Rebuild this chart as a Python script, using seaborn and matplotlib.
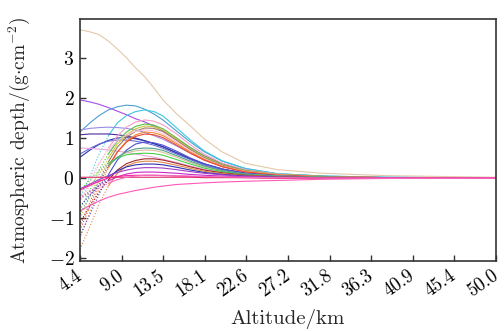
import matplotlib
matplotlib.use("Agg")
import matplotlib.pyplot as plt
import matplotlib.transforms as mtransforms
import seaborn as sns
import pandas as pd

# altitude sample points (km)
altitude = [4.4, 5.5, 6.5, 7.5, 8.5, 9.5, 10.5, 11.5, 12.5, 13.5, 15, 16.5, 18, 20, 22.5, 26, 31, 38, 50]

x_ticks = [4.4, 9.0, 13.5, 18.1, 22.6, 27.2, 31.8, 36.3, 40.9, 45.4, 50.0]
x_tick_labels = ["4.4", "9.0", "13.5", "18.1", "22.6", "27.2", "31.8", "36.3", "40.9", "45.4", "50.0"]
y_ticks = [-2, -1, 0, 1, 2, 3]

curve_colors = [
    "#e3c9a8", "#a64de6", "#4c9fd0", "#3cc8e0", "#9a8ce8", "#4b2aa0", "#2838a8",
    "#6a6ad8", "#e8a8e0", "#f4a0c8", "#58c048", "#c8c83c", "#a07868", "#f8c0d8",
    "#f08a30", "#f04830", "#5050d0", "#d8c098", "#48d048", "#50a090", "#a02828",
    "#e08848", "#3030b8", "#a040c8", "#c828c8", "#ff20a0", "#e0306a", "#ff58b8",
    "#f070c0",
]
curve_dotted = [
    False, False, False, True, False, False, False,
    False, False, True, True, True, True, True,
    True, True, True, True, True, True, True,
    True, True, False, True, False, False, False,
    True,
]
curve_values = [
    [3.70, 3.65, 3.58, 3.42, 3.22, 3.00, 2.75, 2.53, 2.25, 1.95, 1.60, 1.30, 0.98, 0.65, 0.37, 0.21, 0.12, 0.06, 0.02],
    [1.95, 1.90, 1.84, 1.76, 1.67, 1.58, 1.48, 1.40, 1.30, 1.18, 0.98, 0.76, 0.56, 0.36, 0.20, 0.09, 0.04, 0.01, 0.00],
    [1.15, 1.38, 1.56, 1.70, 1.78, 1.82, 1.80, 1.72, 1.60, 1.45, 1.17, 0.90, 0.66, 0.42, 0.24, 0.11, 0.05, 0.02, 0.00],
    [-0.50, 0.05, 0.60, 1.05, 1.38, 1.56, 1.66, 1.70, 1.66, 1.55, 1.25, 0.95, 0.68, 0.43, 0.24, 0.11, 0.05, 0.02, 0.00],
    [1.20, 1.24, 1.26, 1.27, 1.26, 1.24, 1.20, 1.14, 1.06, 0.97, 0.80, 0.62, 0.45, 0.29, 0.16, 0.07, 0.03, 0.01, 0.00],
    [1.08, 1.10, 1.10, 1.10, 1.08, 1.05, 1.00, 0.93, 0.86, 0.78, 0.63, 0.48, 0.35, 0.22, 0.12, 0.05, 0.02, 0.01, 0.00],
    [0.52, 0.70, 0.84, 0.94, 1.00, 1.01, 0.98, 0.93, 0.86, 0.78, 0.63, 0.48, 0.35, 0.22, 0.12, 0.05, 0.02, 0.01, 0.00],
    [0.60, 0.74, 0.85, 0.92, 0.95, 0.95, 0.92, 0.88, 0.82, 0.74, 0.60, 0.46, 0.33, 0.21, 0.11, 0.05, 0.02, 0.01, 0.00],
    [0.75, 0.74, 0.72, 0.70, 0.67, 0.64, 0.60, 0.56, 0.52, 0.47, 0.39, 0.30, 0.22, 0.14, 0.08, 0.04, 0.02, 0.01, 0.00],
    [-0.60, -0.10, 0.35, 0.75, 1.05, 1.27, 1.40, 1.45, 1.42, 1.33, 1.10, 0.83, 0.60, 0.37, 0.21, 0.10, 0.04, 0.01, 0.00],
    [-0.80, -0.30, 0.20, 0.60, 0.92, 1.15, 1.29, 1.35, 1.32, 1.23, 1.00, 0.76, 0.55, 0.34, 0.19, 0.09, 0.04, 0.01, 0.00],
    [-1.00, -0.45, 0.08, 0.50, 0.85, 1.08, 1.23, 1.30, 1.28, 1.20, 0.97, 0.73, 0.53, 0.33, 0.18, 0.09, 0.04, 0.01, 0.00],
    [-1.20, -0.60, -0.05, 0.40, 0.77, 1.02, 1.17, 1.25, 1.24, 1.16, 0.94, 0.71, 0.51, 0.32, 0.18, 0.08, 0.04, 0.01, 0.00],
    [-0.40, 0.00, 0.38, 0.70, 0.93, 1.08, 1.17, 1.20, 1.18, 1.10, 0.90, 0.68, 0.49, 0.30, 0.17, 0.08, 0.03, 0.01, 0.00],
    [-1.50, -0.85, -0.25, 0.25, 0.65, 0.92, 1.08, 1.15, 1.13, 1.06, 0.86, 0.65, 0.47, 0.29, 0.16, 0.08, 0.03, 0.01, 0.00],
    [-1.30, -0.70, -0.15, 0.30, 0.65, 0.90, 1.04, 1.10, 1.08, 1.01, 0.82, 0.62, 0.45, 0.28, 0.15, 0.07, 0.03, 0.01, 0.00],
    [-1.43, -0.90, -0.40, 0.08, 0.45, 0.70, 0.85, 0.90, 0.88, 0.82, 0.67, 0.50, 0.36, 0.23, 0.12, 0.06, 0.02, 0.01, 0.00],
    [-0.50, -0.20, 0.10, 0.35, 0.52, 0.63, 0.68, 0.70, 0.69, 0.64, 0.52, 0.39, 0.28, 0.18, 0.10, 0.05, 0.02, 0.01, 0.00],
    [-0.30, -0.05, 0.18, 0.37, 0.50, 0.58, 0.61, 0.62, 0.61, 0.57, 0.46, 0.35, 0.25, 0.16, 0.09, 0.04, 0.02, 0.01, 0.00],
    [-0.90, -0.45, -0.05, 0.30, 0.52, 0.66, 0.73, 0.75, 0.74, 0.69, 0.56, 0.42, 0.30, 0.19, 0.10, 0.05, 0.02, 0.01, 0.00],
    [-1.10, -0.70, -0.35, -0.05, 0.20, 0.36, 0.44, 0.48, 0.48, 0.45, 0.37, 0.28, 0.20, 0.13, 0.07, 0.03, 0.01, 0.00, 0.00],
    [-1.78, -1.20, -0.65, -0.20, 0.12, 0.30, 0.39, 0.42, 0.42, 0.39, 0.32, 0.24, 0.17, 0.11, 0.06, 0.03, 0.01, 0.00, 0.00],
    [-0.70, -0.42, -0.18, 0.03, 0.18, 0.28, 0.33, 0.35, 0.35, 0.33, 0.27, 0.20, 0.14, 0.09, 0.05, 0.02, 0.01, 0.00, 0.00],
    [-0.27, -0.15, -0.04, 0.06, 0.14, 0.20, 0.24, 0.26, 0.26, 0.25, 0.21, 0.16, 0.12, 0.08, 0.04, 0.02, 0.01, 0.00, 0.00],
    [-0.50, -0.33, -0.19, -0.07, 0.03, 0.10, 0.14, 0.15, 0.15, 0.14, 0.12, 0.09, 0.07, 0.05, 0.03, 0.01, 0.00, 0.00, 0.00],
    [-0.30, -0.18, -0.08, 0.00, 0.04, 0.06, 0.07, 0.07, 0.07, 0.06, 0.05, 0.04, 0.03, 0.02, 0.01, 0.00, 0.00, 0.00, 0.00],
    [0.02, 0.02, 0.02, 0.02, 0.02, 0.02, 0.02, 0.02, 0.02, 0.02, 0.02, 0.02, 0.01, 0.01, 0.01, 0.00, 0.00, 0.00, 0.00],
    [-0.82, -0.68, -0.57, -0.48, -0.41, -0.36, -0.31, -0.27, -0.23, -0.20, -0.16, -0.14, -0.12, -0.10, -0.08, -0.06, -0.03, -0.01, 0.00],
    [-0.52, -0.38, -0.25, -0.13, -0.04, 0.02, 0.05, 0.07, 0.07, 0.07, 0.06, 0.05, 0.04, 0.03, 0.02, 0.01, 0.00, 0.00, 0.00],
]

sns.set_style("ticks")
plt.rcParams["font.family"] = ["cmr10", "DejaVu Serif"]
plt.rcParams["mathtext.fontset"] = "cm"
plt.rcParams["axes.unicode_minus"] = False

fig = plt.figure(figsize=(5.04, 3.31), dpi=100)
ax = fig.add_axes([0.1587, 0.2115, 0.8254, 0.7311])

split = 3  # dotted up to this altitude index
for color, dotted, vals in zip(curve_colors, curve_dotted, curve_values):
    df = pd.DataFrame({"alt": altitude, "depth": vals})
    if dotted:
        sns.lineplot(data=df.iloc[:split + 1], x="alt", y="depth", color=color,
                     linewidth=0.8, linestyle=":", ax=ax)
        sns.lineplot(data=df.iloc[split:], x="alt", y="depth", color=color,
                     linewidth=0.8, ax=ax)
    else:
        sns.lineplot(data=df, x="alt", y="depth", color=color, linewidth=0.8, ax=ax)

ax.set_xlim(4.4, 50.0)
ax.set_ylim(-2.07, 3.97)
ax.set_xticks(x_ticks)
ax.set_xticklabels(x_tick_labels, rotation=35, ha="right", va="top",
                   rotation_mode="anchor", fontsize=13.5)
ax.set_yticks(y_ticks)
ax.set_yticklabels([rf"${v}$" for v in y_ticks], fontsize=14)
ax.tick_params(direction="in", length=4, width=1, colors="#333333",
               labelcolor="black", top=False, right=False, pad=4)
for s in ax.spines.values():
    s.set_visible(True)
    s.set_color("#333333")
    s.set_linewidth(1.2)

# nudge rotated x tick labels slightly left (after tick_params so it sticks)
shift = mtransforms.ScaledTranslation(-5 / 100, 0, fig.dpi_scale_trans)
for tick in ax.xaxis.get_major_ticks():
    tick.label1.set_transform(tick.label1.get_transform() + shift)

ax.set_xlabel("Altitude/km", fontsize=15, labelpad=6)
ax.set_ylabel(r"Atmospheric depth/(g$\cdot$cm$^{-2}$)", fontsize=14, labelpad=12)

fig.savefig("out.png", dpi=100)
